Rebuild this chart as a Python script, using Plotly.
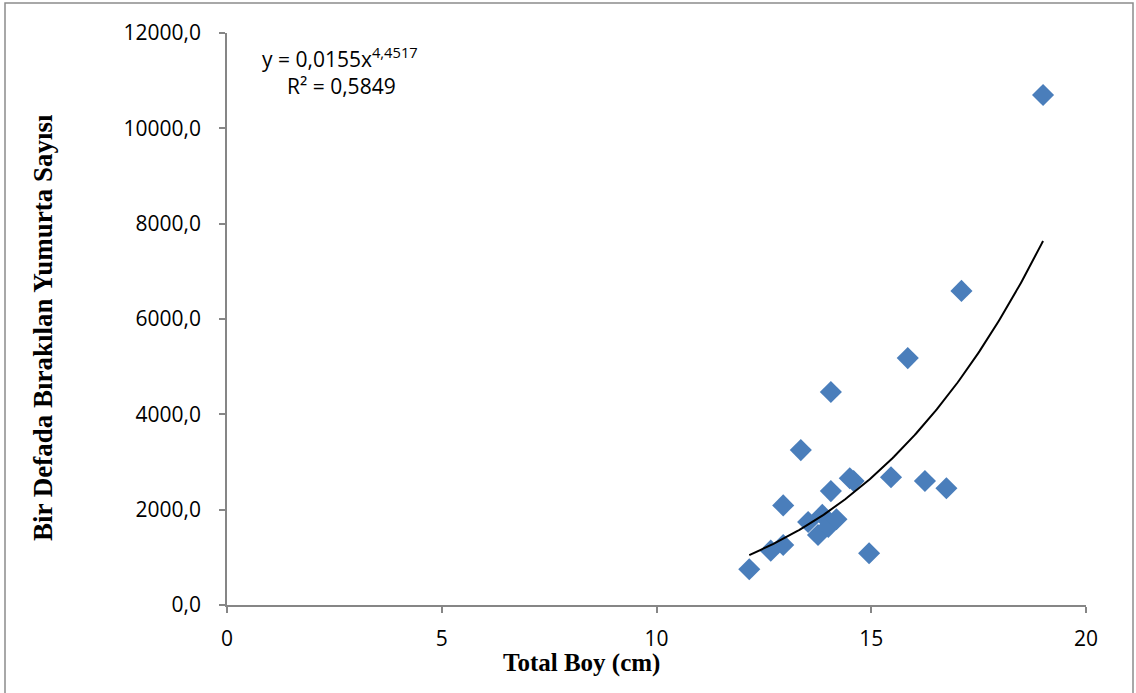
import numpy as np
import plotly.graph_objects as go

# Total length (cm) vs. number of eggs released per spawning
total_boy = [19.0, 17.1, 15.85, 14.06, 13.36, 14.5, 14.59, 15.46, 16.25, 16.75,
             14.06, 12.95, 13.53, 13.76, 13.86, 14.0, 14.19, 12.95, 12.66, 12.16, 14.95]
yumurta = [10700, 6590, 5180, 4470, 3250, 2660, 2600, 2680, 2600, 2450,
           2390, 2090, 1740, 1470, 1890, 1640, 1800, 1260, 1140, 750, 1085]

# Power trendline y = a * x^b
trend_a = 0.0155
trend_b = 4.4517
trend_r2 = 0.5849

x_tick_vals = [0, 5, 10, 15, 20]
y_tick_vals = [0, 2000, 4000, 6000, 8000, 10000, 12000]

tx = np.linspace(min(total_boy), max(total_boy), 200)
ty = trend_a * tx ** trend_b

fig = go.Figure()
fig.add_trace(go.Scatter(
    x=total_boy, y=yumurta, mode="markers",
    marker=dict(symbol="diamond", size=17, color="#4A7EBB", line=dict(width=0)),
    showlegend=False, hoverinfo="x+y",
))
fig.add_trace(go.Scatter(
    x=tx, y=ty, mode="lines",
    line=dict(color="black", width=2),
    showlegend=False, hoverinfo="skip",
))

sans = "Open Sans, Noto Sans, sans-serif"
tick_font = dict(family=sans, size=21, color="black")
title_family = "Liberation Serif, Times New Roman, serif"

L, R, T, B = 227, 50, 33, 88
W, H = 1136, 693
pw, ph = W - L - R, H - T - B


def px_x(p):
    return (p - L) / pw


def px_y(p):
    return (H - B - p) / ph


def dec(v):
    return str(v).replace(".", ",")


fig.update_layout(
    width=W, height=H,
    margin=dict(l=L, r=R, t=T, b=B),
    paper_bgcolor="white", plot_bgcolor="white",
    separators=",.",
    xaxis=dict(
        range=[0, 20], tickvals=x_tick_vals, showgrid=False, zeroline=False,
        showline=True, linecolor="#868686", linewidth=1.5,
        ticks="outside", ticklen=6, tickcolor="#868686", tickwidth=1.5,
        tickfont=tick_font, ticklabelstandoff=8,
    ),
    yaxis=dict(
        range=[0, 12000], tickvals=y_tick_vals, tickformat=".1f",
        showgrid=False, zeroline=False,
        showline=True, linecolor="#868686", linewidth=1.5,
        ticks="outside", ticklen=6, tickcolor="#868686", tickwidth=1.5,
        tickfont=tick_font, ticklabelstandoff=14,
    ),
    annotations=[
        dict(
            xref="paper", yref="paper", x=px_x(340), y=px_y(57),
            xanchor="center", yanchor="middle", showarrow=False,
            text=f"y = {dec(trend_a)}x<sup>{dec(trend_b)}</sup>",
            font=dict(family=sans, size=21, color="black"),
        ),
        dict(
            xref="paper", yref="paper", x=px_x(341), y=px_y(86),
            xanchor="center", yanchor="middle", showarrow=False,
            text=f"R² = {dec(trend_r2)}",
            font=dict(family=sans, size=21, color="black"),
        ),
        dict(
            xref="paper", yref="paper", x=px_x(581), y=px_y(663),
            xanchor="center", yanchor="middle", showarrow=False,
            text="<b>Total Boy (cm)</b>",
            font=dict(family=title_family, size=25, color="black"),
        ),
        dict(
            xref="paper", yref="paper", x=px_x(43), y=px_y(328),
            xanchor="center", yanchor="middle", showarrow=False, textangle=-90,
            text="<b>Bir Defada Bırakılan Yumurta Sayısı</b>",
            font=dict(family=title_family, size=27, color="black"),
        ),
    ],
    shapes=[dict(
        type="rect", xref="paper", yref="paper", layer="below",
        x0=px_x(5), x1=px_x(1133), y0=px_y(696), y1=px_y(3),
        line=dict(color="#8C8C8C", width=1.5), fillcolor="rgba(0,0,0,0)",
    )],
)

fig.write_html("out.html")
